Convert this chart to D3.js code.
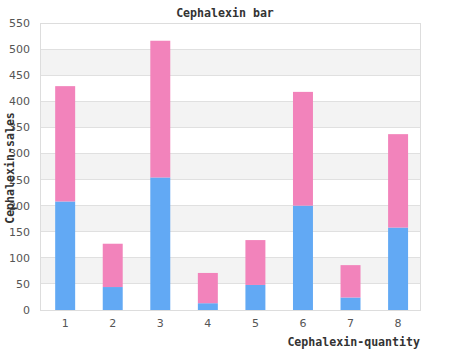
<!DOCTYPE html>
<html><head><meta charset="utf-8">
<script src="https://cdn.jsdelivr.net/npm/d3@7"></script>
<style>body{margin:0;background:#fff}svg{display:block}</style>
</head><body><svg id="c" width="450" height="350"></svg>
<script>
const categories = ["1","2","3","4","5","6","7","8"];
const seriesA = [208, 44, 254, 13, 48, 200, 24, 158];
const seriesB = [221, 83, 262, 58, 86, 218, 62, 179];
const yTicks = [0,50,100,150,200,250,300,350,400,450,500,550];
const colors = ["#62a9f4", "#f283bb"];

const svg = d3.select("#c");
const m = {l:40, r:30, t:23, b:40};
const W = 450, H = 350;
const x = d3.scaleBand().domain(categories).range([m.l, W-m.r]).paddingInner(0.58).paddingOuter(0.285).align(0.56);
const y = d3.scaleLinear().domain([0,550]).range([H-m.b, m.t]);

for (let i=0;i<yTicks.length-1;i++){
  if (i%2===1) svg.append("rect").attr("x",m.l).attr("width",W-m.r-m.l)
    .attr("y",y(yTicks[i+1])).attr("height",y(yTicks[i])-y(yTicks[i+1])).attr("fill","#f3f3f3");
}
svg.append("g").selectAll("line").data(yTicks).join("line")
  .attr("x1",m.l).attr("x2",W-m.r).attr("y1",d=>y(d)).attr("y2",d=>y(d))
  .attr("stroke","#e0e0e0").attr("stroke-width",1).attr("shape-rendering","crispEdges");

const stack = d3.stack().keys([0,1]).value((d,k)=>d[k]);
const rows = categories.map((c,i)=>[seriesA[i], seriesB[i]]);
const st = stack(rows);
st.forEach((s,k)=>{
  svg.append("g").selectAll("rect").data(s).join("rect")
    .attr("x",(d,i)=>x(categories[i])).attr("width",x.bandwidth())
    .attr("y",d=>y(d[1])).attr("height",d=>y(d[0])-y(d[1])).attr("fill",colors[k]);
});

svg.append("rect").attr("x",m.l).attr("y",m.t).attr("width",W-m.r-m.l).attr("height",H-m.b-m.t)
  .attr("fill","none").attr("stroke","#dddddd").attr("shape-rendering","crispEdges");

const yAx = svg.append("g").attr("transform",`translate(${m.l},0)`)
  .call(d3.axisLeft(y).tickValues(yTicks).tickSize(0).tickPadding(10));
yAx.select(".domain").remove();
const xAx = svg.append("g").attr("transform",`translate(0,${H-m.b})`)
  .call(d3.axisBottom(x).tickSize(0).tickPadding(9));
xAx.select(".domain").remove();
svg.selectAll(".tick text").attr("font-family","DejaVu Sans, sans-serif").attr("font-size",11).attr("fill","#555");

const lab = {"font-family":"DejaVu Sans Mono, monospace","font-weight":"bold","font-size":11.6,"fill":"#333"};
function styl(t){ for (const k in lab) t.attr(k, lab[k]); return t; }
styl(svg.append("text").attr("x",225).attr("y",17).attr("text-anchor","middle")).text("Cephalexin bar");
styl(svg.append("text").attr("x",420).attr("y",346).attr("text-anchor","end")).text("Cephalexin-quantity");
styl(svg.append("text").attr("transform","translate(14,168) rotate(-90)").attr("text-anchor","middle")).text("Cephalexin-sales");
</script></body></html>
